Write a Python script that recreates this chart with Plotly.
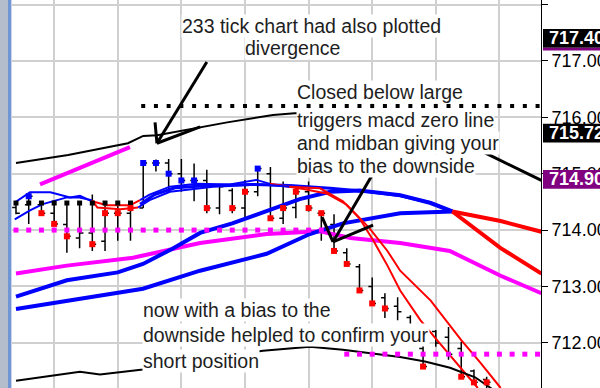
import plotly.graph_objects as go

FONT = "Arial, Liberation Sans, sans-serif"
BLUE = "#0000ff"
RED = "#ff0000"
MAGENTA = "#ff00ff"
BLACK = "#000000"
NOTE = "#1e1e1e"

# ---- 233-tick price bars (bar index, OHLC) ----
bar_x = list(range(38))
bar_open = [714.40, 714.45, 714.45, 714.30, 714.10, 713.86, 713.95, 713.80, 714.30, 714.30,
            714.39, 715.19, 715.19, 715.00, 714.88, 714.88, 714.39, 714.70, 714.39, 714.68,
            715.00, 714.21, 714.40, 714.68, 714.30, 714.10, 713.60, 713.35, 713.00, 712.80,
            712.65, 712.45, 711.90, 712.20, 712.10, 711.90, 711.50, 711.35]
bar_high = [714.51, 714.60, 714.49, 714.49, 714.49, 714.49, 714.63, 714.47, 714.47, 714.51,
            715.19, 715.25, 715.26, 715.26, 715.18, 715.07, 714.77, 714.74, 714.89, 715.09,
            715.12, 714.86, 714.77, 714.86, 714.33, 714.28, 713.68, 713.40, 713.16, 712.88,
            712.81, 712.49, 711.96, 712.23, 712.28, 712.02, 711.53, 711.40]
bar_low = [714.28, 714.11, 714.28, 714.07, 713.60, 713.68, 713.63, 713.63, 713.81, 713.81,
           714.39, 715.04, 714.68, 714.68, 714.51, 714.30, 714.28, 714.30, 714.19, 714.60,
           714.19, 714.11, 714.21, 714.33, 713.81, 713.60, 713.40, 712.89, 712.70, 712.44,
           712.40, 712.14, 711.58, 711.93, 711.70, 711.40, 711.26, 711.15]
bar_close = [714.30, 714.60, 714.30, 714.11, 713.89, 713.95, 713.75, 714.30, 714.30, 714.39,
             715.19, 715.19, 715.00, 714.88, 714.88, 714.39, 714.77, 714.39, 714.68, 715.09,
             714.21, 714.39, 714.68, 714.39, 714.30, 713.63, 713.40, 712.93, 712.70, 712.61,
             712.55, 712.20, 711.58, 712.00, 711.80, 711.40, 711.30, 711.30]

# signal dots plotted on the bars (None = no dot)
sig_val = [None, 714.60, 714.30, 714.11, 713.89, None, 713.75, 714.30, 714.30, 714.39,
           715.19, 715.19, 715.00, 714.88, 714.88, 714.39, None, 714.39, 714.68, 715.09,
           714.21, 714.39, 714.68, 714.39, 714.30, 713.63, 713.40, 712.93, 712.70, 712.61,
           None, None, 711.58, None, None, 711.40, 711.30, 711.30]
sig_dir = ["", "up", "dn", "dn", "dn", "", "dn", "dn", "dn", "dn",
           "up", "up", "up", "up", "up", "dn", "", "dn", "dn", "up",
           "dn", "dn", "dn", "dn", "dn", "dn", "dn", "dn", "dn", "dn",
           "", "", "dn", "", "", "dn", "dn", "dn"]

# flat reference levels (dotted)
pivot_x = list(range(0, 10))
pivot_level = 714.48
mag_lvl1_x = list(range(0, 25))
mag_lvl1 = 714.00
mag_lvl2_x = list(range(26, 42))
mag_lvl2 = 711.80
resist_x = list(range(10, 42))
resist_lvl = 716.20

# Bollinger-style envelope
upper_band_x = [0.0, 4.1, 8.8, 10.0, 11.1, 14.5, 16.6, 20.2, 21.9, 23.6]
upper_band_y = [715.19, 715.33, 715.54, 715.67, 715.68, 715.83, 715.91, 716.04, 716.07, 716.07]
lower_band_x = [0.0, 3.07, 5.03, 6.6, 8.57, 9.98, 14.5, 19.42, 23.11, 25.7, 30.19, 32.15, 34.12, 36.09, 37.26, 39.0]
lower_band_y = [711.33, 711.42, 711.49, 711.44, 711.49, 711.53, 711.70, 711.86, 711.93, 711.88,
                711.75, 711.67, 711.56, 711.39, 711.21, 710.90]

# short magenta trend segment
trend_x = [1.89, 8.96]
trend_y = [714.81, 715.47]

# slow magenta average
slow_x = [0.0, 4.0, 9.2, 14.47, 19.7, 23.9, 26.3, 30.2, 34.1, 38.1, 41.3]
slow_y = [713.23, 713.37, 713.51, 713.77, 713.93, 713.98, 713.86, 713.77, 713.63, 713.19, 712.88]

# medium averages: blue while rising, red once turned down
ma_a_x = [0.0, 4.0, 8.0, 9.98, 12.3, 14.47, 17.0, 19.7, 22.3, 24.7, 27.0, 30.2, 32.6, 34.3]
ma_a_y = [712.82, 713.11, 713.25, 713.40, 713.67, 713.95, 714.12, 714.33, 714.55, 714.68, 714.70,
          714.62, 714.48, 714.33]
ma_a_dn_x = [34.3, 38.1, 41.3]
ma_a_dn_y = [714.33, 714.16, 713.97]
ma_b_x = [0.0, 4.0, 9.98, 14.47, 19.7, 23.1, 25.7, 30.2, 34.3]
ma_b_y = [712.60, 712.75, 712.96, 713.28, 713.58, 713.93, 714.12, 714.30, 714.33]
ma_b_dn_x = [34.3, 38.1, 41.3]
ma_b_dn_y = [714.33, 713.68, 713.23]
ma_m_x = [9.75, 10.9, 12.5, 15.2, 18.4, 21.5, 24.7, 27.8, 30.2, 32.5, 34.3]
ma_m_y = [714.46, 714.63, 714.75, 714.79, 714.81, 714.79, 714.74, 714.68, 714.61, 714.49, 714.33]

# fast averages (thin), split by slope colour
fast1_segments = [
    ("up", [-0.1, 1.1, 2.7, 4.25, 5.03, 5.97], [714.49, 714.67, 714.67, 714.58, 714.61, 714.51]),
    ("dn", [5.97, 7.15, 8.96, 9.75], [714.51, 714.44, 714.44, 714.53]),
    ("up", [9.75, 10.5, 12.1, 14.2, 16.8, 18.9, 19.97], [714.53, 714.63, 714.77, 714.82, 714.81, 714.89, 714.82]),
    ("dn", [19.97, 22.6, 24.4, 26.0, 27.8, 29.2, 30.2, 32.6, 35.0, 36.5, 38.1],
     [714.82, 714.73, 714.65, 714.45, 714.03, 713.63, 713.28, 712.75, 712.05, 711.65, 711.20]),
]
fast2_segments = [
    ("up", [-0.1, 1.1, 2.1, 4.0, 4.9, 5.97], [714.19, 714.35, 714.46, 714.58, 714.58, 714.53]),
    ("dn", [5.97, 6.4, 8.2, 9.6], [714.53, 714.40, 714.37, 714.40]),
    ("up", [9.6, 10.5, 12.1, 15.5, 19.4, 21.5], [714.40, 714.53, 714.68, 714.77, 714.81, 714.77]),
    ("dn", [21.5, 23.9, 25.7, 27.0, 28.1, 29.2, 30.2, 31.8, 33.1, 35.1, 36.3],
     [714.77, 714.74, 714.51, 714.21, 713.81, 713.37, 712.93, 712.40, 712.05, 711.53, 711.20]),
]

# price labels on the right scale
tick_vals = [712, 713, 714, 715, 716, 717, 718]
flag_vals = [717.40, 715.72, 714.90]
flag_cols = [BLACK, BLACK, "#800080"]

# annotation text lines: (text, bar index of left edge, price of line centre)
notes = [
    ("233 tick chart had also plotted", 13.05, 717.62),
    ("divergence", 18.0, 717.227),
    ("Closed below large", 22.09, 716.447),
    ("triggers macd zero line", 22.09, 715.95),
    ("and midban giving your", 22.09, 715.54),
    ("bias to the downside", 22.09, 715.14),
    ("now with a bias to the", 9.98, 712.58),
    ("downside helpled to confirm your", 9.98, 712.14),
    ("short position", 9.98, 711.68),
]

# hand-drawn pointer strokes: (x0, y0, x1, y1) in bar index / price
strokes = [
    (15.0, 716.98, 11.08, 715.54),
    (11.08, 715.54, 10.93, 715.91),
    (11.08, 715.54, 14.47, 715.83),
    (28.22, 715.06, 24.92, 713.79),
    (24.92, 713.79, 24.06, 714.23),
    (24.92, 713.79, 28.07, 714.09),
    (36.87, 715.37, 41.3, 714.88),
]

fig = go.Figure()


def add_line(x, y, color, width):
    fig.add_trace(go.Scatter(x=x, y=y, mode="lines", line=dict(color=color, width=width),
                             hoverinfo="skip", showlegend=False))


def add_dots(x, y, color, size):
    fig.add_trace(go.Scatter(x=x, y=y, mode="markers",
                             marker=dict(symbol="square", color=color, size=size, line=dict(width=0)),
                             hoverinfo="skip", showlegend=False))


add_line(slow_x, slow_y, MAGENTA, 4)
add_line(trend_x, trend_y, MAGENTA, 4)
add_line(ma_b_x, ma_b_y, BLUE, 4)
add_line(ma_a_x, ma_a_y, BLUE, 4)
add_line(ma_m_x, ma_m_y, BLUE, 3)
add_line(ma_a_dn_x, ma_a_dn_y, RED, 4)
add_line(ma_b_dn_x, ma_b_dn_y, RED, 4)
for seg_dir, sx, sy in fast1_segments + fast2_segments:
    add_line(sx, sy, BLUE if seg_dir == "up" else RED, 2)
add_line(upper_band_x, upper_band_y, BLACK, 2)
add_line(lower_band_x, lower_band_y, BLACK, 2)

add_dots(mag_lvl1_x, [mag_lvl1] * len(mag_lvl1_x), MAGENTA, 5)
add_dots(mag_lvl2_x, [mag_lvl2] * len(mag_lvl2_x), MAGENTA, 5)

fig.add_trace(go.Ohlc(x=bar_x, open=bar_open, high=bar_high, low=bar_low, close=bar_close,
                      increasing=dict(line=dict(color=BLACK, width=1.5)),
                      decreasing=dict(line=dict(color=BLACK, width=1.5)),
                      tickwidth=0.3, hoverinfo="skip", showlegend=False))

add_dots(pivot_x, [pivot_level] * len(pivot_x), BLACK, 5)
for d, col in (("up", BLUE), ("dn", RED)):
    xs = [i for i, v, s in zip(bar_x, sig_val, sig_dir) if s == d and v is not None]
    ys = [v for v, s in zip(sig_val, sig_dir) if s == d and v is not None]
    add_dots(xs, ys, col, 6)
add_dots(resist_x, [resist_lvl] * len(resist_x), BLACK, 4)

shapes = []
for x0, y0, x1, y1 in strokes:
    shapes.append(dict(type="line", xref="x", yref="y", x0=x0, y0=y0, x1=x1, y1=y1,
                       line=dict(color=BLACK, width=3), layer="above"))

# window frame strip on the left
PW = 529.0
shapes += [
    dict(type="rect", xref="paper", yref="paper", x0=-12 / PW, x1=-4 / PW, y0=0, y1=1,
         fillcolor="#b3bdcc", line=dict(width=0), layer="above"),
    dict(type="rect", xref="paper", yref="paper", x0=-4 / PW, x1=-1 / PW, y0=0, y1=1,
         fillcolor="#6f95d4", line=dict(width=0), layer="above"),
    dict(type="rect", xref="paper", yref="paper", x0=-1 / PW, x1=0, y0=0, y1=1,
         fillcolor="#c9d5ea", line=dict(width=0), layer="above"),
]

# price flags on the right scale
annotations = []
for val, col in zip(flag_vals, flag_cols):
    shapes.append(dict(type="rect", xref="paper", yref="y", x0=1 + 2 / PW, x1=1.15,
                       y0=val - 0.165, y1=val + 0.165, fillcolor=col, line=dict(width=0),
                       layer="above"))
    annotations.append(dict(x=1, xref="paper", y=val, yref="y", xanchor="left", yanchor="middle",
                            xshift=6, text=f"<b>{val:.2f}</b>", showarrow=False,
                            font=dict(family=FONT, size=18, color="#ffffff")))
# purple underline of the top flag
shapes.append(dict(type="rect", xref="paper", yref="y", x0=1 + 2 / PW, x1=1.15,
                   y0=flag_vals[0] - 0.215, y1=flag_vals[0] - 0.165, fillcolor="#800080",
                   line=dict(width=0), layer="above"))

for text, nx, ny in notes:
    annotations.append(dict(x=nx, y=ny, xref="x", yref="y", xanchor="left", yanchor="middle",
                            text=text, showarrow=False, bgcolor="#ffffff", borderpad=0,
                            xshift=-1, font=dict(family=FONT, size=19.5, color=NOTE)))

fig.update_layout(
    width=600, height=388,
    margin=dict(l=12, r=59, t=0, b=0),
    paper_bgcolor="#ffffff", plot_bgcolor="#ffffff",
    showlegend=False, hovermode=False,
    shapes=shapes, annotations=annotations,
    xaxis=dict(range=[-0.314, 41.27], tickvals=list(range(3, 42, 5)), showticklabels=False,
               showgrid=True, gridcolor="#d0d0d0", gridwidth=2, zeroline=False,
               showline=False, ticks="", rangeslider=dict(visible=False), fixedrange=True),
    yaxis=dict(range=[711.20, 718.08], side="right", tickvals=tick_vals,
               ticktext=[f"{v:.2f}" for v in tick_vals], ticks="outside", ticklen=6,
               tickcolor=BLACK, tickwidth=1, showline=True, linecolor=BLACK, linewidth=1,
               showgrid=True, gridcolor="#d0d0d0", gridwidth=2, zeroline=False,
               tickfont=dict(family=FONT, size=18, color=BLACK), automargin=False,
               fixedrange=True),
)

fig.write_html("out.html", config={"displayModeBar": False})
